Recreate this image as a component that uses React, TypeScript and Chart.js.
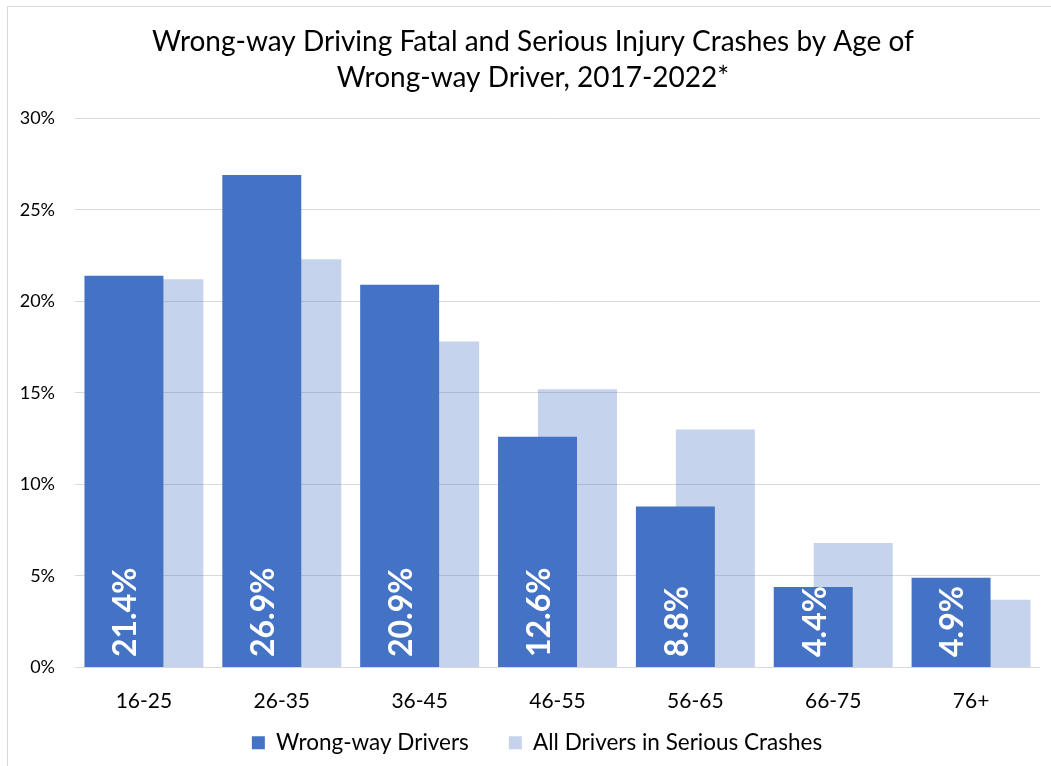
import React, { useEffect, useRef } from "react";
import { Chart, registerables } from "chart.js";

Chart.register(...registerables);

const categories = ["16-25", "26-35", "36-45", "46-55", "56-65", "66-75", "76+"];
const wrongWay = [21.4, 26.9, 20.9, 12.6, 8.8, 4.4, 4.9];
const allDrivers = [21.2, 22.3, 17.8, 15.2, 13.0, 6.8, 3.7];
const seriesNames = ["Wrong-way Drivers", "All Drivers in Serious Crashes"];
const titleLines = [
  "Wrong-way Driving Fatal and Serious Injury Crashes by Age of",
  "Wrong-way Driver, 2017-2022*",
];
const yTicks = [0, 5, 10, 15, 20, 25, 30];

const FONT = "Lato, 'Noto Sans', sans-serif";

const barLabels = {
  id: "barLabels",
  afterLayout(chart: any) {
    // let the x tick labels overflow their (compact) box without being clipped
    chart.scales.x.bottom += 40;
    // centre legend and title like the original
    chart.legend.left += 17;
    chart.legend.right += 17;
    chart.titleBlock.left += 13;
    chart.titleBlock.right += 13;
  },
  afterDatasetsDraw(chart: any) {
    const ctx = chart.ctx;
    const meta = chart.getDatasetMeta(0);
    ctx.save();
    ctx.fillStyle = "#ffffff";
    ctx.font = `bold 32px ${FONT}`;
    ctx.textAlign = "left";
    ctx.textBaseline = "middle";
    meta.data.forEach((bar: any, i: number) => {
      const v = chart.data.datasets[0].data[i];
      ctx.save();
      ctx.translate(bar.x + 2, bar.base - 10);
      ctx.rotate(-Math.PI / 2);
      ctx.fillText(v.toFixed(1) + "%", 0, 0);
      ctx.restore();
    });
    ctx.restore();
  },
};

export default function App() {
  const ref = useRef<HTMLCanvasElement>(null);
  useEffect(() => {
    document.body.style.margin = "0";
    const chart = new Chart(ref.current!, {
      type: "bar",
      data: {
        labels: categories,
        datasets: [
          {
            label: seriesNames[0],
            data: wrongWay,
            backgroundColor: "#4472C4",
            categoryPercentage: 0.58,
            barPercentage: 1.975,
          },
          {
            label: seriesNames[1],
            data: allDrivers,
            backgroundColor: "rgba(68,114,196,0.31)",
            categoryPercentage: 0.58,
            barPercentage: 1.975,
          },
        ],
      },
      options: {
        animation: false,
        responsive: false,
        maintainAspectRatio: false,
        layout: { padding: { left: 0, right: 11, top: 24, bottom: 2 } },
        plugins: {
          title: {
            display: true,
            text: titleLines,
            color: "#000000",
            font: { family: FONT, size: 28, weight: "normal", lineHeight: 1.29 },
            padding: { top: 0, bottom: 22 },
          },
          legend: {
            position: "bottom",
            labels: {
              color: "#000000",
              font: { family: FONT, size: 22.5 },
              boxWidth: 13,
              boxHeight: 13,
              padding: 40,
            },
          },
          tooltip: { enabled: false },
        },
        scales: {
          x: {
            grid: { display: false, drawTicks: false },
            border: { display: false },
            afterFit: (scale: any) => {
              scale.height = 24;
            },
            ticks: { color: "#000000", font: { family: FONT, size: 21 }, padding: 21 },
          },
          y: {
            min: 0,
            max: 30,
            afterBuildTicks: (scale: any) => {
              scale.ticks = yTicks.map((v) => ({ value: v }));
            },
            afterFit: (scale: any) => {
              scale.width = 75;
            },
            grid: { color: "#d9d9d9", lineWidth: 1, drawTicks: false },
            border: { display: false },
            ticks: {
              color: "#000000",
              font: { family: FONT, size: 18 },
              padding: 20,
              callback: (v: any) => v + "%",
            },
          },
        },
      },
      plugins: [barLabels],
    });
    return () => chart.destroy();
  }, []);
  return (
    <div
      style={{
        position: "absolute",
        left: 0,
        top: 0,
        width: 1051,
        height: 766,
        background: "#ffffff",
      }}
    >
      <div
        style={{
          position: "absolute",
          left: 7,
          top: 6,
          right: 0,
          bottom: 0,
          borderLeft: "1px solid #d9d9d9",
          borderTop: "1px solid #d9d9d9",
        }}
      />
      <canvas ref={ref} width={1051} height={766} style={{ position: "absolute", left: 0, top: 0 }} />
    </div>
  );
}
